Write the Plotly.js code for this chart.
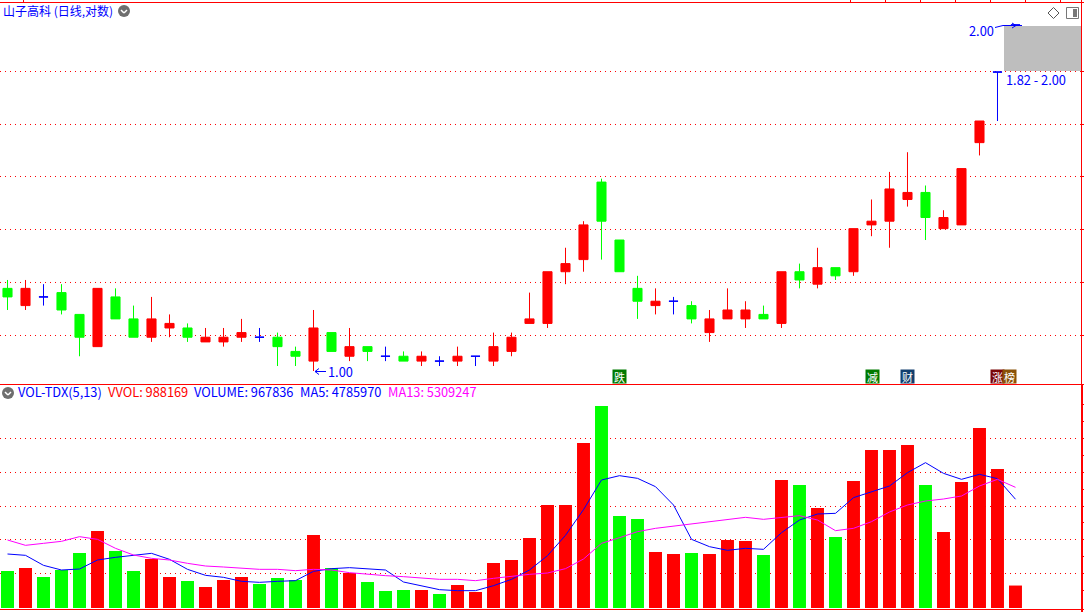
<!DOCTYPE html>
<html>
<head>
<meta charset="utf-8">
<script src="https://cdn.plot.ly/plotly-3.0.1.min.js"></script>
<style>html,body{margin:0;padding:0;background:#fff}</style>
</head>
<body>
<div id="chart" style="width:1084px;height:612px"></div>
<script>
// rising days
var upDay   = [1,5,8,9,11,12,13,17,19,23,25,27,28,29,30,31,32,36,39,40,41,43,45,47,48,49,50,52,53,54];
var upOpen  = [1.14,1.05,1.07,1.09,1.06,1.06,1.07,1.02,1.03,1.02,1.02,1.02,1.04,1.10,1.10,1.22,1.25,1.14,1.08,1.11,1.11,1.10,1.19,1.22,1.34,1.35,1.41,1.33,1.34,1.58];
var upHigh  = [1.20,1.18,1.16,1.12,1.09,1.09,1.11,1.13,1.09,1.04,1.05,1.08,1.08,1.17,1.22,1.28,1.35,1.18,1.13,1.18,1.15,1.22,1.28,1.33,1.41,1.49,1.55,1.38,1.50,1.65];
var upLow   = [1.13,1.05,1.06,1.07,1.06,1.05,1.06,1.00,1.02,1.01,1.01,1.01,1.03,1.10,1.09,1.19,1.22,1.12,1.06,1.11,1.09,1.09,1.18,1.21,1.31,1.28,1.39,1.33,1.34,1.54];
var upClose = [1.18,1.18,1.11,1.10,1.07,1.07,1.08,1.09,1.05,1.03,1.03,1.05,1.07,1.11,1.22,1.24,1.34,1.15,1.11,1.13,1.13,1.22,1.23,1.33,1.35,1.44,1.43,1.36,1.50,1.65];
// falling days
var downDay   = [0,3,4,6,7,10,15,16,18,20,22,33,34,35,38,42,44,46,51];
var downOpen  = [1.18,1.17,1.12,1.16,1.11,1.09,1.07,1.04,1.08,1.05,1.03,1.46,1.30,1.18,1.14,1.12,1.22,1.23,1.43];
var downHigh  = [1.20,1.19,1.12,1.18,1.14,1.10,1.08,1.05,1.08,1.05,1.04,1.47,1.30,1.21,1.15,1.14,1.24,1.23,1.45];
var downLow   = [1.13,1.12,1.03,1.11,1.07,1.06,1.01,1.01,1.04,1.02,1.02,1.25,1.22,1.11,1.10,1.11,1.18,1.20,1.30];
var downClose = [1.16,1.13,1.07,1.11,1.07,1.07,1.05,1.03,1.04,1.04,1.02,1.35,1.22,1.15,1.11,1.11,1.20,1.21,1.36];
// flat days (open == close)
var flatDay   = [2,14,21,24,26,37,55,56];
var flatPrice = [1.16,1.07,1.03,1.02,1.03,1.15,1.82,2.00];
var flatHigh  = [1.19,1.09,1.05,1.03,1.03,1.16,1.82,2.00];
var flatLow   = [1.14,1.06,1.02,1.01,1.01,1.12,1.65,2.00];

// volume panel
var volDay = [0,1,2,3,4,5,6,7,8,9,10,11,12,13,14,15,16,17,18,19,20,21,22,23,24,25,26,27,28,29,30,31,32,33,34,35,36,37,38,39,40,41,42,43,44,45,46,47,48,49,50,51,52,53,54,55,56];
var volume = [1628000,1760000,1364000,1672000,2420000,3388000,2508000,1628000,2156000,1364000,1188000,924000,1232000,1364000,1056000,1320000,1232000,3212000,1760000,1540000,1144000,748000,792000,792000,616000,1012000,704000,1980000,2112000,3080000,4532000,4532000,7260000,8888000,4048000,3916000,2464000,2376000,2420000,2376000,2992000,2948000,2332000,5632000,5412000,4400000,3124000,5588000,6952000,6952000,7172000,5412000,3344000,5544000,7920000,6116000,988169];
var volFall = [1,0,1,1,1,0,1,1,0,0,1,0,0,0,1,1,1,0,1,0,1,1,1,0,1,0,0,0,0,0,0,0,0,1,1,1,0,0,1,0,0,0,1,0,1,0,1,0,0,0,0,1,0,0,0,0,0];
var ma5 = [2376000,2317000,1877000,1672000,1716000,2112000,2229000,2317000,2405000,2141000,1701000,1437000,1349000,1173000,1129000,1173000,1203000,1613000,1731000,1775000,1731000,1672000,1144000,968000,807000,763000,763000,983000,1261000,1672000,2303000,3197000,4327000,5632000,5823000,5705000,5339000,4532000,3021000,2699000,2537000,2625000,2581000,3315000,3872000,4136000,4165000,4855000,5119000,5368000,5955000,6395000,5925000,5661000,5881000,5691000,4785970];
var ma13 = [2992000,2757000,2845000,2933000,3139000,3021000,2625000,2332000,2185000,2112000,1965000,1848000,1804000,1745000,1701000,1701000,1643000,1701000,1672000,1555000,1481000,1423000,1379000,1335000,1261000,1261000,1203000,1305000,1408000,1481000,1540000,1731000,2156000,2845000,3095000,3359000,3505000,3608000,3696000,3813000,3901000,3989000,3901000,3989000,4063000,3872000,3403000,3505000,3799000,4224000,4532000,4708000,4796000,4928000,5368000,5661000,5309247];

// gridlines
var priceGrid = [1.0737,1.194,1.3277,1.4764,1.6385,1.822];
var volGrid = [1518000,3014000,4466000,5962000,7458000];
var volTick = [770000,1518000,2266000,3014000,3762000,4466000,5214000,5962000,6710000,7458000,8206000,8954000];

var RED = '#ff0000', GREEN = '#00ff00', BLUE = '#0000ff', MAG = '#ff00ff';
var W = 1084, H = 612;
function px(x) { return x / W; }
function py(y) { return 1 - y / H; }

function candle(name, x, o, h, l, c, col) {
  return {
    type: 'candlestick', name: name, x: x, open: o, high: h, low: l, close: c,
    xaxis: 'x', yaxis: 'y', whiskerwidth: 0, hoverinfo: 'skip', showlegend: false,
    increasing: {line: {color: col, width: 1}, fillcolor: col},
    decreasing: {line: {color: col, width: 1}, fillcolor: col}
  };
}

var traces = [
  candle('up', upDay, upOpen, upHigh, upLow, upClose, RED),
  candle('down', downDay, downOpen, downHigh, downLow, downClose, GREEN),
  candle('flat', flatDay, flatPrice, flatHigh, flatLow, flatPrice, BLUE),
  {type: 'bar', x: volDay, y: volume, xaxis: 'x2', yaxis: 'y2', width: 0.72,
   marker: {color: volFall.map(function (f) { return f ? GREEN : RED; }), line: {width: 0}},
   hoverinfo: 'skip', showlegend: false},
  {type: 'scatter', mode: 'lines', x: volDay, y: ma5, xaxis: 'x2', yaxis: 'y2',
   line: {color: BLUE, width: 1}, hoverinfo: 'skip', showlegend: false},
  {type: 'scatter', mode: 'lines', x: volDay, y: ma13, xaxis: 'x2', yaxis: 'y2',
   line: {color: MAG, width: 1}, hoverinfo: 'skip', showlegend: false}
];

var FONT = '"Noto Sans CJK SC","Noto Sans",sans-serif';
function label(x, y, text, color, size) {
  return {xref: 'paper', yref: 'paper', x: px(x), y: py(y), text: text, showarrow: false,
          xanchor: 'left', yanchor: 'middle', font: {family: FONT, size: size || 12.8, color: color}};
}
function tag(x, text, bg) {
  return {xref: 'paper', yref: 'paper', x: px(x), y: py(376.5), text: text, showarrow: false,
          xanchor: 'center', yanchor: 'middle', width: 13, height: 13, bgcolor: bg, borderpad: 0,
          font: {family: FONT, size: 11, color: '#ffffff'}};
}
var annotations = [
  label(1, 10, '山子高科 (日线,对数)', BLUE, 12),
  label(16, 392, 'VOL-TDX(5,13)', BLUE),
  label(106, 392, 'VVOL: 988169', RED),
  label(192, 392, 'VOLUME: 967836', BLUE),
  label(298, 392, 'MA5: 4785970', BLUE),
  label(386, 392, 'MA13: 5309247', MAG),
  label(1004, 80, '1.82 - 2.00', BLUE),
  label(967, 30, '2.00', BLUE),
  label(326, 371, '1.00', BLUE),
  tag(619.5, '跌', '#007a00'),
  tag(872.5, '减', '#007a00'),
  tag(907.5, '财', '#123f6e'),
  tag(997, '涨', '#7a0606'),
  tag(1009.5, '榜', '#8a5208')
];

function line(x0, y0, x1, y1, color, w) {
  return {type: 'line', xref: 'paper', yref: 'paper', x0: px(x0), y0: py(y0), x1: px(x1), y1: py(y1),
          line: {color: color, width: w || 1}};
}
function badge(cx, cy) {
  return [
    {type: 'circle', xref: 'paper', yref: 'paper', x0: px(cx - 6), y0: py(cy - 6), x1: px(cx + 6), y1: py(cy + 6),
     fillcolor: '#6e6e6e', line: {width: 0}},
    line(cx - 3, cy - 1, cx, cy + 2, '#ffffff', 1.5),
    line(cx, cy + 2, cx + 3, cy - 1, '#ffffff', 1.5)
  ];
}

var DOTS = '1px 4px';
var shapes = [];
priceGrid.forEach(function (p) {
  shapes.push({type: 'line', xref: 'paper', yref: 'y', x0: 0, x1: px(1081), y0: p, y1: p, layer: 'below',
               line: {color: RED, width: 1, dash: DOTS}});
  shapes.push({type: 'line', xref: 'paper', yref: 'y', x0: px(1081), x1: px(1084), y0: p, y1: p,
               line: {color: RED, width: 1}});
});
volGrid.forEach(function (v) {
  shapes.push({type: 'line', xref: 'paper', yref: 'y2', x0: 0, x1: px(1078), y0: v, y1: v, layer: 'below',
               line: {color: RED, width: 1, dash: DOTS}});
});
volTick.forEach(function (v) {
  shapes.push({type: 'line', xref: 'paper', yref: 'y2', x0: px(1081), x1: px(1084), y0: v, y1: v,
               line: {color: RED, width: 1}});
});
shapes.push({type: 'rect', xref: 'paper', yref: 'paper', x0: px(1004), x1: px(1081), y0: py(26), y1: py(71),
             fillcolor: '#bebebe', line: {width: 0}, layer: 'below'});
shapes.push(line(0, 2.5, 1084, 2.5, RED));
shapes.push(line(0, 384.5, 1084, 384.5, RED));
shapes.push(line(0, 609.5, 1084, 609.5, RED));
shapes.push(line(1081.5, 0, 1081.5, 384, RED));
shapes.push(line(1082, 384, 1082, 612, RED, 2));
[23, 850, 885, 920, 955, 990, 1025, 1060].forEach(function (x) { shapes.push(line(x + 0.5, 0, x + 0.5, 2, RED)); });
// arrows for the two marked prices
shapes.push(line(315, 371.5, 326, 371.5, BLUE));
shapes.push(line(315, 371.5, 319, 368.5, BLUE));
shapes.push(line(315, 371.5, 319, 374.5, BLUE));
shapes.push(line(995, 27.5, 1003, 25.5, BLUE));
shapes.push(line(1003, 25.5, 1022, 25.5, BLUE));
shapes.push(line(1012, 23, 1016, 25.5, BLUE));
shapes.push(line(1012, 28, 1016, 25.5, BLUE));
// top right icons
shapes.push({type: 'path', xref: 'paper', yref: 'paper', line: {color: '#555555', width: 1},
             path: 'M' + px(1048) + ',' + py(13) + 'L' + px(1053.5) + ',' + py(7.5) + 'L' + px(1059) + ',' + py(13) + 'L' + px(1053.5) + ',' + py(18.5) + 'Z'});
shapes.push({type: 'rect', xref: 'paper', yref: 'paper', x0: px(1066.5), x1: px(1078.5), y0: py(7.5), y1: py(18.5),
             fillcolor: '#ffffff', line: {color: '#777777', width: 1}});
shapes.push({type: 'rect', xref: 'paper', yref: 'paper', x0: px(1073), x1: px(1077), y0: py(9), y1: py(17),
             fillcolor: '#777777', line: {width: 0}});
shapes = shapes.concat(badge(124, 11), badge(8, 393));

var xRange = [-0.4167, 59.806];
var layout = {
  width: W, height: H, autosize: false,
  margin: {l: 0, r: 0, t: 0, b: 0, pad: 0},
  paper_bgcolor: '#ffffff', plot_bgcolor: 'rgba(0,0,0,0)',
  showlegend: false, boxgap: 0.28, hovermode: false, dragmode: false,
  xaxis:  {domain: [0, 1], range: xRange, visible: false, rangeslider: {visible: false}, anchor: 'y', fixedrange: true},
  xaxis2: {domain: [0, 1], range: xRange, visible: false, anchor: 'y2', fixedrange: true},
  yaxis:  {domain: [py(384), py(3)], type: 'log', range: [-0.01131, 0.32014], visible: false, anchor: 'x', fixedrange: true},
  yaxis2: {domain: [py(609), py(384)], range: [-44000, 9856000], visible: false, anchor: 'x2', fixedrange: true},
  shapes: shapes,
  annotations: annotations
};

Plotly.newPlot('chart', traces, layout, {displayModeBar: false, staticPlot: true});
</script>
</body>
</html>
